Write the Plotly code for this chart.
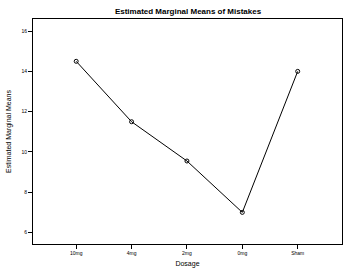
import plotly.graph_objects as go

dosage = ["10mg", "4mg", "2mg", "0mg", "Sham"]
means = [14.5, 11.5, 9.55, 7.0, 14.0]
y_ticks = [6, 8, 10, 12, 14, 16]

fig = go.Figure()
fig.add_trace(go.Scatter(
    x=list(range(len(dosage))), y=means, mode="lines+markers",
    line=dict(color="black", width=1),
    marker=dict(symbol="circle-open", size=4, color="black", line=dict(width=1)),
    showlegend=False,
))
fig.update_layout(
    width=345, height=276,
    margin=dict(l=33, r=3, t=19, b=32),
    paper_bgcolor="white", plot_bgcolor="white",
    font=dict(family="Liberation Sans, Arial, sans-serif", color="black", size=6),
    title=dict(text="<b>Estimated Marginal Means of Mistakes</b>", x=0.545, xanchor="center",
               y=0.97, yanchor="top", font=dict(size=8, color="black")),
)
fig.update_xaxes(
    range=[-0.78, 4.80], tickvals=list(range(len(dosage))), ticktext=dosage,
    showgrid=False, zeroline=False, showline=True, linecolor="black", linewidth=1,
    mirror=True, ticks="outside", ticklen=4, tickcolor="black",
    tickfont=dict(size=5, color="black"),
    title=dict(text="Dosage", font=dict(size=7, color="black"), standoff=6),
)
fig.update_yaxes(
    range=[5.43, 16.6], tickvals=y_ticks, ticktext=[str(v) for v in y_ticks],
    showgrid=False, zeroline=False, showline=True, linecolor="black", linewidth=1,
    mirror=True, ticks="outside", ticklen=4, tickcolor="black",
    tickfont=dict(size=5, color="black"),
    title=dict(text="Estimated Marginal Means", font=dict(size=7, color="black"), standoff=8),
)
fig.write_html("out.html")
